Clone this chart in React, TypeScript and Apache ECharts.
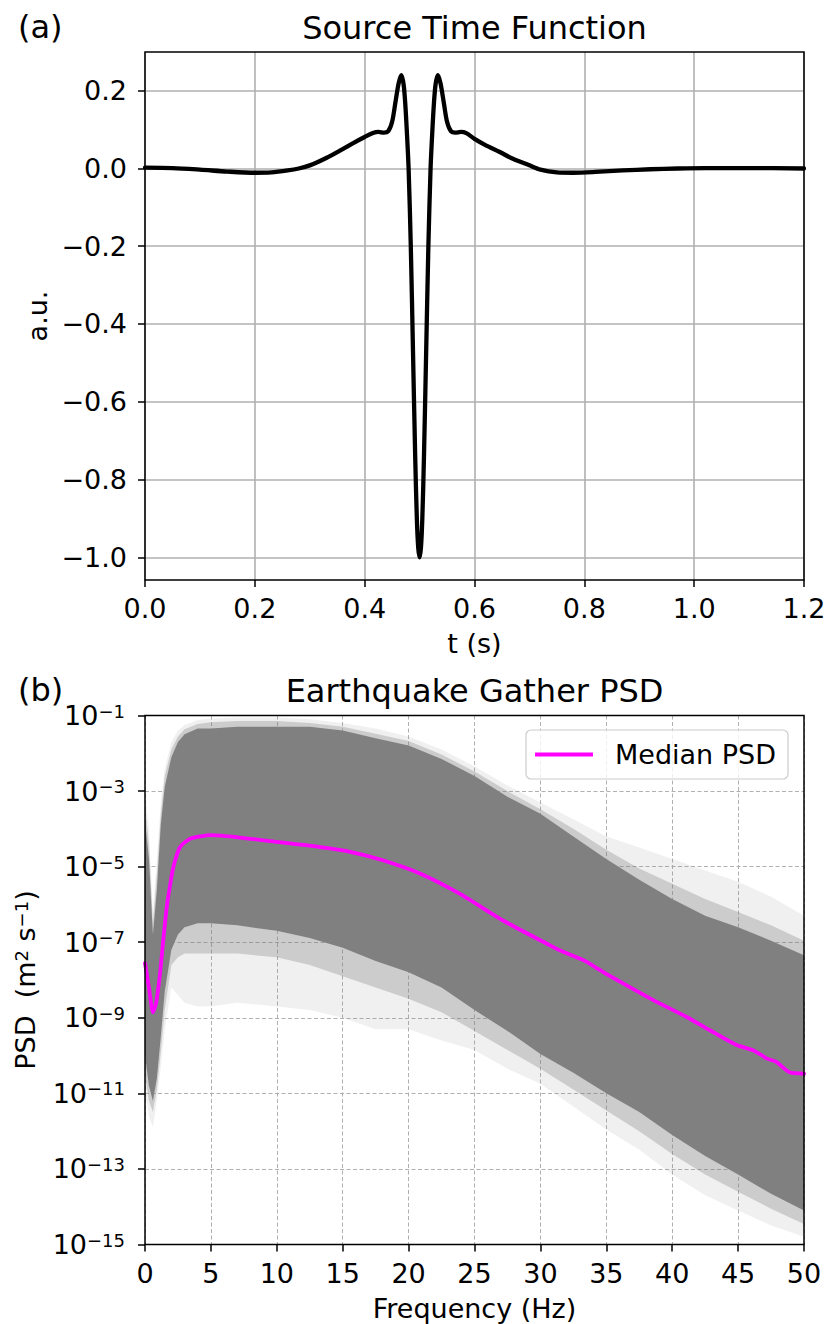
import React, { useEffect, useRef } from 'react';
import * as echarts from 'echarts';

// ---------- Panel (a): source time function ----------
const stfTime = [
  0.0, 0.05, 0.1, 0.15, 0.2, 0.23, 0.26, 0.28, 0.3, 0.33, 0.36, 0.38, 0.4, 0.415, 0.425, 0.435,
  0.443, 0.45, 0.456, 0.462, 0.467, 0.471, 0.474, 0.477, 0.48, 0.484, 0.488, 0.492, 0.495, 0.4975,
  0.5, 0.5025, 0.505, 0.508, 0.512, 0.516, 0.52, 0.523, 0.526, 0.529, 0.533, 0.538, 0.544, 0.55,
  0.557, 0.565, 0.575, 0.585, 0.6, 0.62, 0.645, 0.67, 0.7, 0.72, 0.75, 0.78, 0.82, 0.87, 0.92,
  0.97, 1.02, 1.1, 1.2,
];
const stfAmp = [
  0.002, 0.001, -0.003, -0.008, -0.011, -0.01, -0.005, 0.0, 0.008, 0.027, 0.05, 0.066, 0.081, 0.091,
  0.094, 0.092, 0.096, 0.12, 0.17, 0.22, 0.24, 0.215, 0.165, 0.09, 0.0, -0.2, -0.47, -0.74, -0.9,
  -0.975, -1.0, -0.975, -0.9, -0.74, -0.47, -0.2, 0.0, 0.09, 0.165, 0.215, 0.24, 0.22, 0.17, 0.12,
  0.096, 0.092, 0.094, 0.091, 0.076, 0.06, 0.043, 0.025, 0.008, -0.003, -0.01, -0.011, -0.009,
  -0.005, -0.002, 0.0, 0.001, 0.001, 0.0,
];
const timeTicks = [0.0, 0.2, 0.4, 0.6, 0.8, 1.0, 1.2];
const ampTicks = [-1.0, -0.8, -0.6, -0.4, -0.2, 0.0, 0.2];

// ---------- Panel (b): PSD gather ----------
const freqTicks = [0, 5, 10, 15, 20, 25, 30, 35, 40, 45, 50];

const medianFreq = [
  0, 0.3, 0.6, 0.85, 1.14, 1.4, 1.65, 1.9, 2.15, 2.66, 3.42, 5, 7.2, 10, 13.3, 15.5, 18.1, 20.9,
  23.9, 27.2, 30.5, 31.5, 33.3, 35.0, 38.6, 41.1, 42.9, 44.9, 46.2, 47.2, 47.9, 48.9, 50,
];
const medianPsd = [
  2.8e-8, 6.3e-9, 1.4e-9, 2.5e-9, 1.5e-8, 1.26e-7, 8.5e-7, 3.2e-6, 9.8e-6, 3.3e-5, 5.5e-5, 6.8e-5,
  5.9e-5, 4.5e-5, 3.3e-5, 2.5e-5, 1.45e-5, 6.5e-6, 1.9e-6, 3.7e-7, 9.1e-8, 6.0e-8, 3.3e-8, 1.45e-8,
  2.9e-9, 1.05e-9, 4.6e-10, 1.9e-10, 1.35e-10, 8.3e-11, 6.8e-11, 3.6e-11, 3.3e-11,
];

// envelopes of the gray cloud of individual station PSDs (dense core, mid fringe, faint fringe)
const envFreq = [
  0, 0.3, 0.6, 0.9, 1.2, 1.5, 2, 2.5, 3, 4, 5, 7, 10, 12.5, 15, 17.5, 20, 22.5, 25, 27.5, 30, 32.5,
  35, 37.5, 40, 42.5, 45, 47.5, 50,
];
const denseUpper = [
  1.6e-4, 1.6e-5, 1.6e-7, 2.5e-6, 1.3e-4, 1.3e-3, 7.9e-3, 2.0e-2, 3.2e-2, 4.5e-2, 4.5e-2, 5.0e-2,
  5.0e-2, 5.0e-2, 4.0e-2, 2.5e-2, 1.6e-2, 7.1e-3, 2.5e-3, 7.1e-4, 2.5e-4, 6.3e-5, 1.6e-5, 4.5e-6,
  1.4e-6, 5.0e-7, 2.5e-7, 1.1e-7, 4.5e-8,
];
const denseLower = [
  1.0e-10, 1.6e-11, 6.3e-12, 2.5e-11, 3.2e-10, 5.0e-9, 6.3e-8, 1.6e-7, 2.5e-7, 3.2e-7, 3.2e-7,
  2.8e-7, 2.0e-7, 1.3e-7, 7.1e-8, 3.2e-8, 1.6e-8, 6.3e-9, 1.6e-9, 4.5e-10, 1.1e-10, 3.5e-11,
  1.0e-11, 3.2e-12, 7.9e-13, 2.2e-13, 7.1e-14, 2.2e-14, 7.9e-15,
];
const midUpper = [
  4.0e-4, 4.0e-5, 3.2e-7, 6.3e-6, 2.5e-4, 2.5e-3, 1.26e-2, 2.8e-2, 4.3e-2, 6.0e-2, 6.6e-2, 7.1e-2,
  7.1e-2, 6.3e-2, 5.0e-2, 3.3e-2, 2.1e-2, 9.3e-3, 3.3e-3, 1.0e-3, 3.3e-4, 1.0e-4, 2.8e-5, 8.9e-6,
  3.5e-6, 1.4e-6, 6.3e-7, 2.8e-7, 1.1e-7,
];
const midLower = [
  3.2e-11, 6.3e-12, 3.2e-12, 1.26e-11, 1.26e-10, 1.6e-9, 2.5e-8, 4.0e-8, 5.0e-8, 5.0e-8, 5.0e-8,
  5.0e-8, 4.0e-8, 2.5e-8, 1.26e-8, 6.3e-9, 3.2e-9, 1.4e-9, 4.5e-10, 1.4e-10, 4.5e-11, 1.26e-11,
  3.5e-12, 1.0e-12, 2.5e-13, 7.1e-14, 2.5e-14, 8.9e-15, 3.5e-15,
];
const faintUpper = [
  1.0e-3, 1.0e-4, 6.3e-7, 1.6e-5, 5.0e-4, 4.0e-3, 2.0e-2, 4.0e-2, 5.6e-2, 7.6e-2, 8.3e-2, 8.9e-2,
  8.9e-2, 7.9e-2, 6.3e-2, 4.5e-2, 2.8e-2, 1.26e-2, 4.5e-3, 1.4e-3, 5.0e-4, 1.8e-4, 6.3e-5, 3.2e-5,
  1.6e-5, 7.9e-6, 4.0e-6, 1.6e-6, 5.0e-7,
];
const faintLower = [
  1.0e-11, 2.5e-12, 1.26e-12, 6.3e-12, 5.0e-11, 5.0e-10, 6.3e-9, 4.0e-9, 2.5e-9, 2.0e-9, 2.0e-9,
  2.5e-9, 2.0e-9, 1.6e-9, 1.0e-9, 5.0e-10, 5.0e-10, 2.5e-10, 1.4e-10, 4.5e-11, 1.8e-11, 4.5e-12,
  1.1e-12, 3.2e-13, 7.1e-14, 2.0e-14, 7.9e-15, 3.2e-15, 1.6e-15,
];
const psdTicks = [1e-15, 1e-13, 1e-11, 1e-9, 1e-7, 1e-5, 1e-3, 1e-1];

const FONT = 'DejaVu Sans';
const MINUS = '\u2212';
const TICK_FS = 27;
const TITLE_FS = 32;

function fmtSigned(v: number, digits: number) {
  const s = Math.abs(v).toFixed(digits);
  return (v < -1e-9 ? MINUS : '') + s;
}

function bandSeries(upper: number[], lower: number[], color: string, z: number) {
  const data = envFreq.map((f, i) => [f, upper[i], lower[i]]);
  return {
    type: 'custom',
    xAxisIndex: 1,
    yAxisIndex: 1,
    silent: true,
    clip: true,
    z,
    data,
    encode: { x: 0, y: [1, 2] },
    renderItem: (params: any, api: any) => {
      if (params.dataIndex !== 0) return null;
      const pts: number[][] = [];
      for (let i = 0; i < data.length; i++) pts.push(api.coord([data[i][0], data[i][1]]));
      for (let i = data.length - 1; i >= 0; i--) pts.push(api.coord([data[i][0], data[i][2]]));
      return {
        type: 'polygon',
        shape: { points: pts },
        style: { fill: color, stroke: 'none' },
      };
    },
  };
}

const tickStyle = { show: true, inside: false, length: 7, lineStyle: { color: '#000', width: 1.5 } };
const axisLineOff = { show: false, onZero: false };

export default function App() {
  const ref = useRef<HTMLDivElement>(null);

  useEffect(() => {
    document.body.style.margin = '0';
    if (!ref.current) return;
    const chart = echarts.init(ref.current, undefined, { renderer: 'svg' });

    const gridBox = {
      show: true,
      z: 10,
      backgroundColor: 'transparent',
      borderColor: '#000',
      borderWidth: 1.5,
      containLabel: false,
      outerBoundsMode: 'none',
    };

    const option: any = {
      animation: false,
      backgroundColor: '#fff',
      textStyle: { fontFamily: FONT, color: '#000' },
      grid: [
        { ...gridBox, left: 145, right: 23, top: 52, height: 528 },
        { ...gridBox, left: 145, right: 23, top: 715.5, height: 529 },
      ],
      xAxis: [
        {
          type: 'value',
          gridIndex: 0,
          min: 0,
          max: 1.2,
          interval: 0.2,
          name: 't (s)',
          nameLocation: 'middle',
          nameGap: 50,
          nameTextStyle: { fontSize: TICK_FS, fontFamily: FONT, color: '#000' },
          axisLine: axisLineOff,
          axisTick: { ...tickStyle, customValues: timeTicks },
          axisLabel: {
            customValues: timeTicks,
            margin: 15,
            fontSize: TICK_FS,
            fontFamily: FONT,
            color: '#000',
            formatter: (v: number) => fmtSigned(v, 1),
          },
          splitLine: { show: true, lineStyle: { color: '#b0b0b0', width: 1.6, type: 'solid' } },
        },
        {
          type: 'value',
          gridIndex: 1,
          min: 0,
          max: 50,
          interval: 5,
          name: 'Frequency (Hz)',
          nameLocation: 'middle',
          nameGap: 50,
          nameTextStyle: { fontSize: TICK_FS, fontFamily: FONT, color: '#000' },
          axisLine: axisLineOff,
          axisTick: { ...tickStyle, customValues: freqTicks },
          axisLabel: {
            customValues: freqTicks,
            margin: 15,
            fontSize: TICK_FS,
            fontFamily: FONT,
            color: '#000',
            formatter: (v: number) => String(Math.round(v)),
          },
          splitLine: { show: true, lineStyle: { color: '#b0b0b0', width: 1, type: [4, 2.5] } },
        },
      ],
      yAxis: [
        {
          type: 'value',
          gridIndex: 0,
          min: -1.0585,
          max: 0.2996,
          name: 'a.u.',
          nameLocation: 'middle',
          nameGap: 94,
          nameRotate: 90,
          nameTextStyle: { fontSize: TICK_FS, fontFamily: FONT, color: '#000' },
          axisLine: axisLineOff,
          axisTick: { ...tickStyle, customValues: ampTicks },
          axisLabel: {
            customValues: ampTicks,
            margin: 18,
            fontSize: TICK_FS,
            fontFamily: FONT,
            color: '#000',
            formatter: (v: number) => fmtSigned(v, 1),
          },
          splitLine: { show: true, lineStyle: { color: '#b0b0b0', width: 1.6, type: 'solid' } },
        },
        {
          type: 'log',
          logBase: 10,
          gridIndex: 1,
          min: 1e-15,
          max: 1e-1,
          name: 'PSD  (m{s|2} s{s|' + MINUS + '1})',
          nameLocation: 'middle',
          nameGap: 106,
          nameRotate: 90,
          nameTextStyle: {
            fontSize: TICK_FS,
            lineHeight: TICK_FS,
            fontFamily: FONT,
            color: '#000',
            rich: { s: { fontSize: 18, lineHeight: 15, verticalAlign: 'top', fontFamily: FONT, color: '#000' } },
          },
          axisLine: axisLineOff,
          axisTick: { ...tickStyle, customValues: psdTicks },
          axisLabel: {
            customValues: psdTicks,
            margin: 20,
            color: '#000',
            formatter: (v: number) => {
              const e = Math.round(Math.log10(v));
              return '{b|10}{s|' + (e < 0 ? MINUS : '') + Math.abs(e) + '}';
            },
            rich: {
              b: { fontSize: TICK_FS, lineHeight: TICK_FS, fontFamily: FONT, color: '#000' },
              s: { fontSize: 18, lineHeight: 15, verticalAlign: 'top', fontFamily: FONT, color: '#000' },
            },
          },
          splitLine: { show: true, lineStyle: { color: '#b0b0b0', width: 1, type: [4, 2.5] } },
        },
      ],
      legend: {
        data: [{ name: 'Median PSD', icon: 'rect' }],
        left: 526,
        top: 730,
        itemWidth: 58,
        itemHeight: 4,
        padding: [11, 12, 11, 9],
        backgroundColor: 'rgba(255,255,255,0.8)',
        borderColor: '#cccccc',
        borderWidth: 1.2,
        borderRadius: 5,
        textStyle: { fontSize: TICK_FS, fontFamily: FONT, color: '#000', padding: [0, 0, 0, 17] },
        selectedMode: false,
        z: 20,
      },
      graphic: [
        { type: 'text', x: 18, y: 27, z: 30, style: { text: '(a)', fontSize: TITLE_FS, fontFamily: FONT, fill: '#000', align: 'left', verticalAlign: 'middle' } },
        { type: 'text', x: 474.5, y: 27.5, z: 30, style: { text: 'Source Time Function', fontSize: TITLE_FS, fontFamily: FONT, fill: '#000', align: 'center', verticalAlign: 'middle' } },
        { type: 'text', x: 18, y: 690, z: 30, style: { text: '(b)', fontSize: TITLE_FS, fontFamily: FONT, fill: '#000', align: 'left', verticalAlign: 'middle' } },
        { type: 'text', x: 474.5, y: 690.5, z: 30, style: { text: 'Earthquake Gather PSD', fontSize: TITLE_FS, fontFamily: FONT, fill: '#000', align: 'center', verticalAlign: 'middle' } },
      ],
      series: [
        {
          name: 'Source time function',
          type: 'line',
          xAxisIndex: 0,
          yAxisIndex: 0,
          data: stfTime.map((t, i) => [t, stfAmp[i]]),
          showSymbol: false,
          symbol: 'none',
          smooth: 0.3,
          lineStyle: { color: '#000', width: 4.3, cap: 'round', join: 'round' },
          z: 3,
          silent: true,
        },
        bandSeries(faintUpper, faintLower, 'rgba(128,128,128,0.12)', 1),
        bandSeries(midUpper, midLower, 'rgba(128,128,128,0.32)', 1.5),
        bandSeries(denseUpper, denseLower, '#808080', 2),
        {
          name: 'Median PSD',
          type: 'line',
          xAxisIndex: 1,
          yAxisIndex: 1,
          data: medianFreq.map((f, i) => [f, medianPsd[i]]),
          showSymbol: false,
          symbol: 'none',
          smooth: 0.2,
          itemStyle: { color: '#ff00ff' },
          lineStyle: { color: '#ff00ff', width: 3.8, cap: 'round', join: 'round' },
          z: 4,
          silent: true,
        },
      ],
    };

    chart.setOption(option);
    return () => chart.dispose();
  }, []);

  return <div ref={ref} style={{ width: 827, height: 1324 }} />;
}
